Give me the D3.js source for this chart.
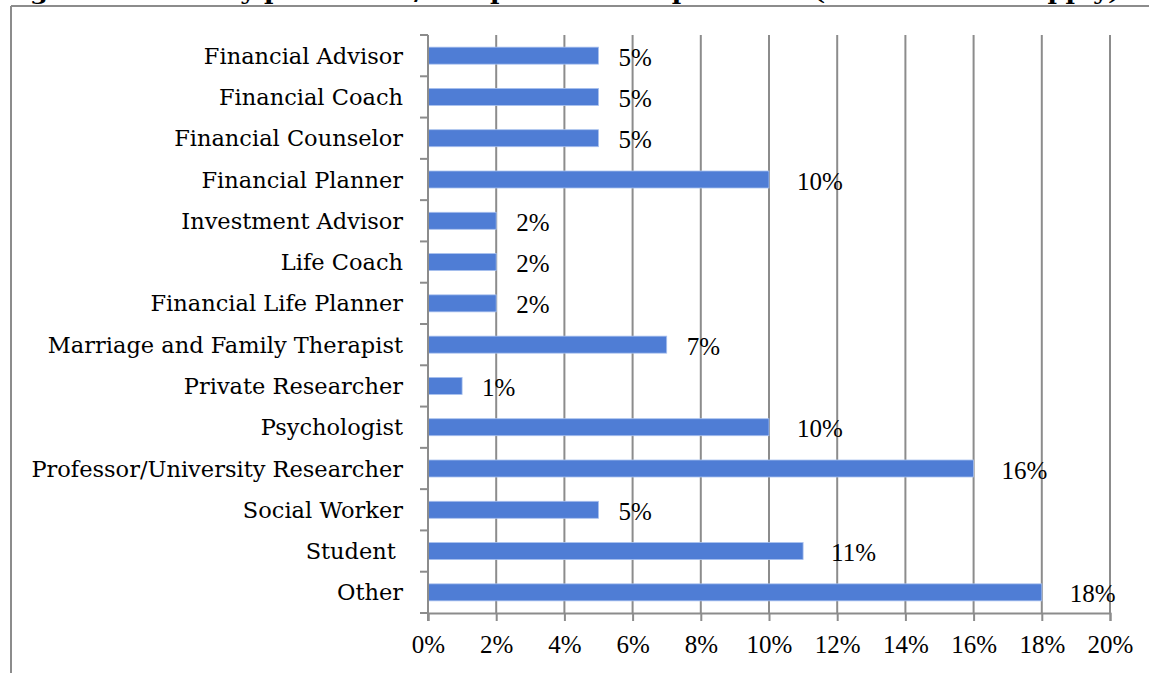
<!DOCTYPE html>
<html><head><meta charset="utf-8">
<script src="https://cdn.jsdelivr.net/npm/d3@7"></script>
<style>html,body{margin:0;padding:0;background:#fff;overflow:hidden}
.tnr{font-family:"Liberation Serif","Times New Roman",Times,serif}
.cam{font-family:"DejaVu Serif",serif}</style>
</head><body>
<svg id="c" width="1149" height="673"></svg>
<script>
const categories = ["Financial Advisor","Financial Coach","Financial Counselor","Financial Planner","Investment Advisor","Life Coach","Financial Life Planner","Marriage and Family Therapist","Private Researcher","Psychologist","Professor/University Researcher","Social Worker","Student ","Other"];
const values = [5,5,5,10,2,2,2,7,1,10,16,5,11,18];
const xTicks = [0,2,4,6,8,10,12,14,16,18,20];
const title = "Figure 3. Primary profession/occupation of respondents (select all that apply)";

const svg = d3.select("#c");
const W = 1149, H = 673;
const plot = {left:428, right:1110, top:35, bottom:613};

// frame
svg.append("line").attr("x1",11).attr("x2",W).attr("y1",6).attr("y2",6).attr("stroke","#8c8c8c").attr("stroke-width",2);
svg.append("line").attr("x1",11).attr("x2",11).attr("y1",6).attr("y2",H).attr("stroke","#8c8c8c").attr("stroke-width",2);

// title (clipped at the top edge, as in the reference)
svg.append("text").attr("class","cam").attr("x",2).attr("y",0).attr("textLength",1118).attr("lengthAdjust","spacingAndGlyphs")
  .attr("font-weight","bold").attr("font-size",20).attr("fill","#000").text(title);

const x = d3.scaleLinear().domain([0,20]).range([plot.left, plot.right]);
const y = d3.scaleBand().domain(categories).range([plot.top, plot.bottom]).paddingInner(0).paddingOuter(0);

// gridlines
svg.append("g").selectAll("line").data(xTicks.filter(d=>d>0)).join("line")
  .attr("x1",d=>x(d)).attr("x2",d=>x(d)).attr("y1",plot.top).attr("y2",plot.bottom)
  .attr("stroke","#8c8c8c").attr("stroke-width",2);

// x axis
const xAxis = svg.append("g").attr("transform",`translate(0,${plot.bottom})`)
  .call(d3.axisBottom(x).tickValues(xTicks).tickFormat(d=>d+"%").tickSize(8).tickPadding(14));
xAxis.attr("font-family",null).attr("font-size",null);
xAxis.select(".domain").attr("stroke","#8c8c8c").attr("stroke-width",2);
xAxis.selectAll(".tick line").attr("stroke","#8c8c8c").attr("stroke-width",2);
xAxis.selectAll("text").attr("class","tnr").style("font-size","25px").attr("fill","#000");

// y axis: ticks at band boundaries
const bounds = categories.map(c=>y(c)).concat([plot.bottom]);
svg.append("g").selectAll("line").data(bounds).join("line")
  .attr("x1",plot.left-8).attr("x2",plot.left).attr("y1",d=>d).attr("y2",d=>d)
  .attr("stroke","#8c8c8c").attr("stroke-width",2);

// bars
const bh = 17;
svg.append("g").selectAll("rect").data(categories).join("rect")
  .attr("x",plot.left).attr("y",(c)=>y(c)+y.bandwidth()/2-bh/2)
  .attr("width",(c,i)=>x(values[i])-plot.left).attr("height",bh)
  .attr("fill","#4f7dd5").attr("stroke","#a9c1ee").attr("stroke-width",0.8);

svg.append("line").attr("x1",plot.left).attr("x2",plot.left).attr("y1",plot.top).attr("y2",plot.bottom+8)
  .attr("stroke","#8c8c8c").attr("stroke-width",2);

// category labels
svg.append("g").selectAll("text").data(categories).join("text").attr("class","cam")
  .attr("x",plot.left-25).attr("y",c=>y(c)+y.bandwidth()/2).attr("dy","0.36em")
  .attr("text-anchor","end").style("font-size","22.5px").attr("fill","#000")
  .style("white-space","pre").text(c=>c);

// value labels
svg.append("g").selectAll("text").data(categories).join("text").attr("class","tnr")
  .attr("x",(c,i)=>x(values[i]) + 20 + (String(values[i]).length-1)*8)
  .attr("y",c=>y(c)+y.bandwidth()/2).attr("dy","0.4em")
  .style("font-size","25px").attr("fill","#000")
  .text((c,i)=>values[i]+"%");
</script>
</body></html>
